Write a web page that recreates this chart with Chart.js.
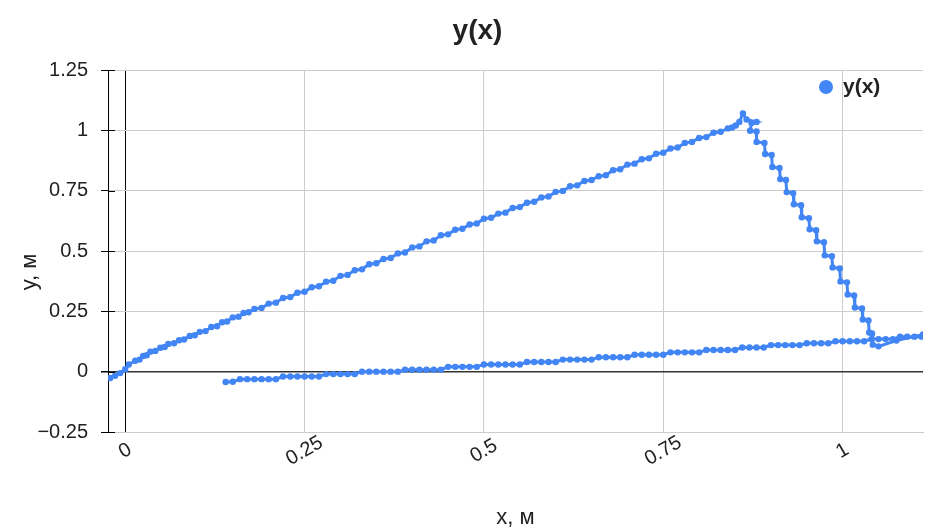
<!DOCTYPE html>
<html>
<head>
<meta charset="utf-8">
<script src="https://cdn.jsdelivr.net/npm/chart.js@4/dist/chart.umd.min.js"></script>
<style>
  html, body { margin: 0; padding: 0; background: #fff; }
  #yxChart { display: block; }
</style>
</head>
<body>
<canvas id="yxChart" width="927" height="531"></canvas>
<script>
// путь y(x): подъём, спуск ступеньками, нижняя ветка
const risingX = [
  -0.021, -0.014, -0.007, 0.000, 0.005, 0.014, 0.020, 0.025, 0.030, 0.035,
  0.042, 0.049, 0.055, 0.060, 0.068, 0.075, 0.082, 0.090, 0.097, 0.104,
  0.112, 0.120, 0.128, 0.135, 0.142, 0.150, 0.158, 0.165, 0.172, 0.180,
  0.190, 0.200, 0.210, 0.220, 0.230, 0.240, 0.250, 0.260, 0.270, 0.280,
  0.290, 0.300, 0.310, 0.320, 0.330, 0.340, 0.350, 0.360, 0.370, 0.380,
  0.390, 0.400, 0.410, 0.420, 0.430, 0.440, 0.450, 0.460, 0.470, 0.480,
  0.490, 0.500, 0.510, 0.520, 0.530, 0.540, 0.550, 0.560, 0.570, 0.580,
  0.590, 0.600, 0.610, 0.620, 0.630, 0.640, 0.650, 0.660, 0.670, 0.680,
  0.690, 0.700, 0.710, 0.720, 0.730, 0.740, 0.750, 0.760, 0.770, 0.780,
  0.790, 0.800, 0.810, 0.820, 0.830, 0.840, 0.846, 0.851, 0.856, 0.861,
  0.866, 0.880
];
const risingY = [
  -0.026, -0.017, -0.006, 0.010, 0.030, 0.045, 0.050, 0.065, 0.068, 0.083,
  0.086, 0.099, 0.102, 0.115, 0.118, 0.130, 0.133, 0.148, 0.151, 0.165,
  0.168, 0.185, 0.188, 0.205, 0.208, 0.225, 0.228, 0.243, 0.246, 0.260,
  0.264, 0.282, 0.286, 0.305, 0.309, 0.327, 0.331, 0.350, 0.354, 0.373,
  0.377, 0.397, 0.401, 0.420, 0.424, 0.445, 0.449, 0.467, 0.471, 0.490,
  0.494, 0.515, 0.519, 0.540, 0.544, 0.565, 0.569, 0.588, 0.592, 0.610,
  0.614, 0.634, 0.638, 0.655, 0.659, 0.678, 0.682, 0.700, 0.704, 0.722,
  0.726, 0.745, 0.749, 0.768, 0.772, 0.790, 0.794, 0.810, 0.814, 0.835,
  0.839, 0.858, 0.862, 0.880, 0.884, 0.903, 0.907, 0.925, 0.929, 0.948,
  0.952, 0.968, 0.972, 0.990, 0.994, 1.008, 1.012, 1.020, 1.035, 1.070,
  1.045, 1.035
];

const descentX = [0.873, 0.871, 0.880, 0.880, 0.891, 0.892, 0.901, 0.902, 0.912, 0.913, 0.921, 0.922, 0.931, 0.932, 0.942, 0.943, 0.953, 0.954, 0.963, 0.964, 0.974, 0.975, 0.985, 0.986, 0.996, 0.997, 1.006, 1.007, 1.016, 1.017, 1.027, 1.028, 1.036, 1.037, 1.041, 1.042, 1.050, 1.075, 1.112];
const descentY = [1.030, 0.998, 0.995, 0.952, 0.948, 0.902, 0.898, 0.848, 0.844, 0.798, 0.794, 0.744, 0.740, 0.694, 0.690, 0.640, 0.636, 0.590, 0.586, 0.540, 0.536, 0.482, 0.478, 0.432, 0.428, 0.374, 0.370, 0.320, 0.316, 0.266, 0.262, 0.216, 0.212, 0.162, 0.158, 0.112, 0.105, 0.129, 0.154];

const lowerX = [
  1.11, 1.10, 1.09, 1.08,
  1.07, 1.06, 1.05, 1.04,
  1.03, 1.02, 1.01, 1.00, 0.99,
  0.98, 0.97, 0.96, 0.95,
  0.94, 0.93, 0.92, 0.91, 0.90,
  0.89, 0.88, 0.87, 0.86,
  0.85, 0.84, 0.83, 0.82, 0.81,
  0.80, 0.79, 0.78, 0.77, 0.76,
  0.75, 0.74, 0.73, 0.72, 0.71,
  0.70, 0.69, 0.68, 0.67, 0.66,
  0.65, 0.64, 0.63, 0.62, 0.61,
  0.60, 0.59, 0.58, 0.57, 0.56,
  0.55, 0.54, 0.53, 0.52, 0.51, 0.50,
  0.49, 0.48, 0.47, 0.46, 0.45,
  0.44, 0.43, 0.42, 0.41, 0.40, 0.39,
  0.38, 0.37, 0.36, 0.35, 0.34, 0.33,
  0.32, 0.31, 0.30, 0.29, 0.28,
  0.27, 0.26, 0.25, 0.24, 0.23, 0.22,
  0.21, 0.20, 0.19, 0.18, 0.17, 0.16,
  0.15, 0.14
];
const lowerY = [
  0.145, 0.145, 0.145, 0.145,
  0.135, 0.135, 0.135, 0.135,
  0.126, 0.126, 0.126, 0.126, 0.126,
  0.118, 0.118, 0.118, 0.118,
  0.110, 0.110, 0.110, 0.110, 0.110,
  0.100, 0.100, 0.100, 0.100,
  0.090, 0.090, 0.090, 0.090, 0.090,
  0.080, 0.080, 0.080, 0.080, 0.080,
  0.070, 0.070, 0.070, 0.070, 0.070,
  0.060, 0.060, 0.060, 0.060, 0.060,
  0.050, 0.050, 0.050, 0.050, 0.050,
  0.040, 0.040, 0.040, 0.040, 0.040,
  0.030, 0.030, 0.030, 0.030, 0.030, 0.030,
  0.020, 0.020, 0.020, 0.020, 0.020,
  0.008, 0.008, 0.008, 0.008, 0.008, 0.008,
  0.000, 0.000, 0.000, 0.000, 0.000, 0.000,
  -0.010, -0.010, -0.010, -0.010, -0.010,
  -0.020, -0.020, -0.020, -0.020, -0.020, -0.020,
  -0.031, -0.031, -0.031, -0.031, -0.031, -0.031,
  -0.042, -0.043
];

const xTicks = [0, 0.25, 0.5, 0.75, 1];
const xTickLabels = ['0', '0.25', '0.5', '0.75', '1'];
const yTicks = [-0.25, 0, 0.25, 0.5, 0.75, 1, 1.25];
const yTickLabels = ['\u22120.25', '0', '0.25', '0.5', '0.75', '1', '1.25'];

const FONT = 'Arial, "Liberation Sans", sans-serif';
const BLUE = '#4285F4';

const pathX = risingX.concat(descentX, lowerX);
const pathY = risingY.concat(descentY, lowerY);
const points = pathX.map(function (x, i) { return { x: x, y: pathY[i] }; });

// повёрнутые подписи оси X, название оси Y, засечки и легенда поверх области графика
const axisExtras = {
  id: 'axisExtras',
  afterDraw: function (chart) {
    const ctx = chart.ctx;
    const xs = chart.scales.x;
    const ys = chart.scales.y;
    ctx.save();
    ctx.strokeStyle = '#000';
    ctx.lineWidth = 1;
    yTicks.forEach(function (v) {
      const py = Math.round(ys.getPixelForValue(v)) + 0.5;
      ctx.beginPath();
      ctx.moveTo(xs.left, py);
      ctx.lineTo(xs.left + 7, py);
      ctx.stroke();
    });

    ctx.fillStyle = '#222';
    ctx.font = '20px ' + FONT;
    ctx.textAlign = 'center';
    ctx.textBaseline = 'middle';
    xTicks.forEach(function (v, i) {
      const px = xs.getPixelForValue(v);
      ctx.save();
      ctx.translate(px, 451);
      ctx.rotate(-30 * Math.PI / 180);
      ctx.fillText(xTickLabels[i], 0, 0);
      ctx.restore();
    });

    ctx.save();
    ctx.font = '22px ' + FONT;
    ctx.translate(30, 272);
    ctx.rotate(-Math.PI / 2);
    ctx.fillText('y, м', 0, 0);
    ctx.restore();

    const ds = chart.data.datasets[0];
    ctx.fillStyle = ds.borderColor;
    ctx.beginPath();
    ctx.arc(826, 87, 7, 0, Math.PI * 2);
    ctx.fill();
    ctx.fillStyle = '#222';
    ctx.font = 'bold 21px ' + FONT;
    ctx.textAlign = 'left';
    ctx.fillText(ds.label, 843, 87);
    ctx.restore();
  }
};

new Chart(document.getElementById('yxChart'), {
  type: 'scatter',
  data: {
    datasets: [{
      label: 'y(x)',
      data: points,
      showLine: true,
      borderColor: BLUE,
      backgroundColor: BLUE,
      borderWidth: 3,
      pointRadius: 3.2,
      pointBorderWidth: 0,
      pointBackgroundColor: BLUE,
      tension: 0
    }]
  },
  options: {
    responsive: false,
    animation: false,
    layout: { padding: { left: 28, right: 0, top: 0, bottom: 0 } },
    plugins: {
      title: {
        display: true,
        text: 'y(x)',
        color: '#222',
        font: { family: FONT, size: 28, weight: 'bold' },
        padding: { top: 14, bottom: 22.4 }
      },
      legend: { display: false },
      tooltip: { enabled: false }
    },
    scales: {
      x: {
        type: 'linear',
        min: -0.024,
        max: 1.112,
        afterFit: function (scale) { scale.height = 99; },
        afterBuildTicks: function (scale) {
          scale.ticks = xTicks.map(function (v) { return { value: v }; });
        },
        border: { display: true, color: '#ccc' },
        grid: {
          drawTicks: false,
          color: function (c) { return c.tick && c.tick.value === 0 ? '#000' : '#ccc'; },
          lineWidth: 1
        },
        ticks: { display: false },
        title: {
          display: true,
          text: 'x, м',
          color: '#222',
          font: { family: FONT, size: 22 },
          padding: { top: 0, bottom: 0 }
        }
      },
      y: {
        type: 'linear',
        min: -0.25,
        max: 1.25,
        afterFit: function (scale) { scale.width = 80; },
        afterBuildTicks: function (scale) {
          scale.ticks = yTicks.map(function (v) { return { value: v }; });
        },
        border: { display: true, color: '#000', width: 1 },
        grid: {
          drawTicks: true,
          tickLength: 7,
          tickColor: '#000',
          color: function (c) { return c.tick && c.tick.value === 0 ? '#333' : '#ccc'; },
          lineWidth: function (c) { return c.tick && c.tick.value === 0 ? 1.5 : 1; }
        },
        ticks: {
          color: '#222',
          padding: 13,
          font: { family: FONT, size: 20 },
          callback: function (value, index) { return yTickLabels[index]; }
        },
        title: { display: false }
      }
    }
  },
  plugins: [axisExtras]
});
</script>
</body>
</html>
